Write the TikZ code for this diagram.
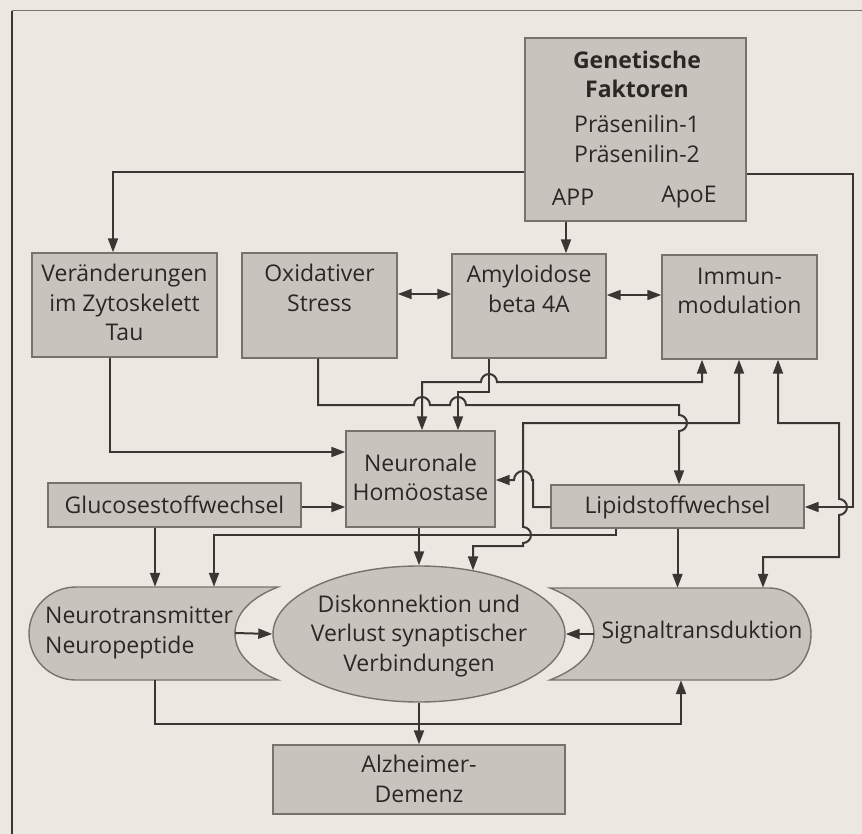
\documentclass[tikz,border=0pt]{standalone}
\usepackage{fontspec}
\setmainfont{Open Sans}
\usetikzlibrary{arrows.meta,shapes.geometric}
\definecolor{bg}{HTML}{ECE8E1}
\definecolor{boxfill}{HTML}{C8C4BD}
\definecolor{boxline}{HTML}{77726C}
\definecolor{ln}{HTML}{3A3633}
\definecolor{txt}{HTML}{2B2725}
\begin{document}
\begin{tikzpicture}[x=1pt,y=-1pt,
  box/.style={draw=boxline,fill=boxfill,line width=1.4pt,inner sep=0pt},
  lbl/.style={text=txt,align=center,font=\fontsize{23}{29.5}\selectfont,inner sep=0pt},
  conn/.style={draw=ln,line width=2pt},
  arr/.style={conn,-{Triangle[length=14pt,width=10pt]}},
  darr/.style={conn,{Triangle[length=14pt,width=10pt]}-{Triangle[length=14pt,width=10pt]}},
  shp/.style={draw=boxline,fill=boxfill,line width=1.4pt}
]
\fill[bg] (0,0) rectangle (862,834);
\useasboundingbox (0,0) rectangle (862,834);
% page border
\draw[ln,line width=2.4pt] (12,11) -- (12,834);
\draw[boxline,line width=1pt] (12,11) -- (862,11);

% boxes
\node[box,minimum width=221pt,minimum height=183pt] (G) at (635.5,129.5) {};
\node[box,minimum width=185pt,minimum height=104pt] (Ver) at (124.5,305) {};
\node[box,minimum width=155pt,minimum height=105pt] (Ox) at (319.5,305.5) {};
\node[box,minimum width=154pt,minimum height=104pt] (Amy) at (529,306) {};
\node[box,minimum width=155pt,minimum height=104pt] (Imm) at (739.5,307) {};
\node[box,minimum width=149pt,minimum height=96pt] (Neur) at (420.5,479) {};
\node[box,minimum width=253pt,minimum height=44pt] (Gluc) at (174.5,505) {};
\node[box,minimum width=253pt,minimum height=43pt] (Lip) at (677.5,506.5) {};
\node[box,minimum width=292pt,minimum height=69pt] (Alz) at (419,779.5) {};
\node[draw=boxline,fill=boxfill,line width=1.4pt,ellipse,minimum width=292pt,minimum height=136pt,inner sep=0pt] (Dis) at (419,634) {};

% side shapes
\node[minimum width=249pt,minimum height=93pt,inner sep=0pt] (NT) at (153.5,633.5) {};
\node[minimum width=261pt,minimum height=92pt,inner sep=0pt] (Sig) at (680.5,634) {};
\path[shp] (76,587) -- (278,587) .. controls (250,598) and (235,614) .. (235,633.5)
  .. controls (235,653) and (250,669) .. (278,680) -- (76,680)
  arc[start angle=90,end angle=270,x radius=47,y radius=46.5] -- cycle;
\path[shp] (550,588) -- (769,588) arc[start angle=-90,end angle=90,x radius=42,y radius=46]
  -- (550,680) .. controls (578,669) and (594,653) .. (594,634)
  .. controls (594,615) and (578,599) .. (550,588) -- cycle;

% labels
\node[lbl,font=\fontsize{23}{29}\selectfont\bfseries] (tG1) at (637,74) {Genetische\\Faktoren};
\node[lbl] (tG2) at (637,139) {Präsenilin-1\\Präsenilin-2};
\node[lbl] (tG3) at (573,197) {APP};
\node[lbl] (tG4) at (689,197) {ApoE};
\node[lbl] (tVer) at (124.5,302.5) {Veränderungen\\im Zytoskelett\\Tau};
\node[lbl] (tOx) at (319.5,288) {Oxidativer\\Stress};
\node[lbl] (tAmy) at (529,289) {Amyloidose\\beta 4A};
\node[lbl] (tImm) at (739.5,291) {Immun-\\modulation};
\node[lbl] (tNeur) at (420.5,477.5) {Neuronale\\Homöostase};
\node[lbl] (tGluc) at (174.5,505) {Glucosestoffwechsel};
\node[lbl] (tLip) at (677.5,507) {Lipidstoffwechsel};
\node[lbl,align=left,anchor=west] (tNT) at (45,633) {Neurotransmitter\\Neuropeptide};
\node[lbl] (tSig) at (702,633) {Signaltransduktion};
\node[lbl] (tDis) at (419,636) {Diskonnektion und\\Verlust synaptischer\\Verbindungen};
\node[lbl] (tAlz) at (419,779) {Alzheimer-\\Demenz};

% connectors
\draw[arr] (G.west |- 0,172) -- (113,172) -- (113,0 |- Ver.north);
\draw[arr] (566,0 |- G.south) -- (566,0 |- Amy.north);
\draw[arr] (G.east |- 0,174) -- (853,174) -- (853,507) -- (Lip.east |- 0,507);
\draw[darr] (Ox.east |- 0,294) -- (Amy.west |- 0,294);
\draw[darr] (Amy.east |- 0,295) -- (Imm.west |- 0,295);
\draw[arr] (110,0 |- Ver.south) -- (110,452) -- (Neur.west |- 0,452);
\draw[arr] (318,0 |- Ox.south) -- (318,405) -- (414,405)
  arc[start angle=180,end angle=360,radius=8] -- (450,405)
  arc[start angle=180,end angle=360,radius=8] -- (679,405) -- (679,415)
  arc[start angle=-90,end angle=90,radius=8] -- (679,0 |- Lip.north);
\draw[arr] (489,0 |- Amy.south) -- (489,392) -- (458,392) -- (458,0 |- Neur.north);
\draw[darr] (422,0 |- Neur.north) -- (422,382) -- (481,382)
  arc[start angle=180,end angle=360,radius=8] -- (702,382) -- (702,0 |- Imm.south);
\draw[darr] (739,0 |- Imm.south) -- (739,423) -- (523,423) -- (523,527)
  arc[start angle=-90,end angle=90,radius=8] -- (523,546) -- (473,546) -- (473,0 |- Dis.49);
\draw[darr] (778,0 |- Imm.south) -- (778,423) -- (839,423) -- (839,499)
  arc[start angle=-90,end angle=90,radius=8] -- (839,557) -- (763,557) -- (763,0 |- Sig.north);
\draw[arr] (Gluc.east |- 0,507) -- (Neur.west |- 0,507);
\draw[arr] (Lip.west |- 0,507) -- (533,507) -- (533,480) -- (532,480)
  arc[start angle=0,end angle=-180,radius=9] -- (Neur.east |- 0,480);
\draw[arr] (155,0 |- Gluc.south) -- (155,0 |- NT.north);
\draw[arr] (616,0 |- Lip.south) -- (616,535) -- (214,535) -- (214,0 |- NT.north);
\draw[arr] (Dis.north |- Neur.south) -- (Dis.north);
\draw[arr] (Lip.south) -- (Lip.south |- Sig.north);
\draw[arr] (235,633) -- (Dis.west);
\draw[arr] (594,634) -- (Dis.east);
\draw[arr] (155,0 |- NT.south) -- (155,724) -- (681,724) -- (681,0 |- Sig.south);
\draw[arr] (Dis.south) -- (Alz.north);
\end{tikzpicture}
\end{document}
